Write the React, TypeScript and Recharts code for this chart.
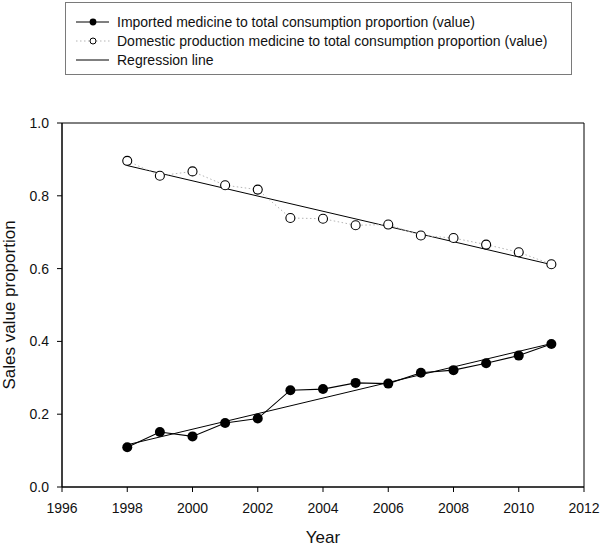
import { LineChart, Line, XAxis, YAxis, ReferenceArea } from 'recharts';

const years = [1998, 1999, 2000, 2001, 2002, 2003, 2004, 2005, 2006, 2007, 2008, 2009, 2010, 2011];
const imported = [0.109, 0.151, 0.139, 0.176, 0.188, 0.266, 0.269, 0.286, 0.284, 0.314, 0.321, 0.34, 0.361, 0.393];
const domestic = [0.896, 0.855, 0.867, 0.829, 0.817, 0.739, 0.737, 0.719, 0.721, 0.691, 0.684, 0.666, 0.645, 0.612];

const fitYears = [1998, 2011];
const importedFit = [0.116, 0.394];
const domesticFit = [0.883, 0.611];

const xTicks = [1996, 1998, 2000, 2002, 2004, 2006, 2008, 2010, 2012];
const yTicks = [0, 0.2, 0.4, 0.6, 0.8, 1.0];

const FONT = '"Liberation Sans", Arial, sans-serif';

const data = years.map((year, i) => {
  const k = fitYears.indexOf(year);
  return {
    year,
    imported: imported[i],
    domestic: domestic[i],
    importedFit: k >= 0 ? importedFit[k] : null,
    domesticFit: k >= 0 ? domesticFit[k] : null,
  };
});

const legendItems = [
  { label: 'Imported medicine to total consumption proportion (value)', kind: 'filled' },
  { label: 'Domestic production medicine to total consumption proportion (value)', kind: 'open' },
  { label: 'Regression line', kind: 'line' },
];

function LegendSymbol({ kind }: { kind: string }) {
  return (
    <svg width={34} height={10} style={{ display: 'block' }}>
      {kind === 'open' ? (
        <line x1={0} y1={5} x2={34} y2={5} stroke="#b5b5b5" strokeWidth={1} strokeDasharray="1.5 2.5" />
      ) : (
        <line x1={0} y1={5} x2={33} y2={5} stroke="#000" strokeWidth={1} />
      )}
      {kind === 'filled' && <circle cx={17} cy={5} r={3.4} fill="#000" />}
      {kind === 'open' && <circle cx={17} cy={5} r={3} fill="#fff" stroke="#000" strokeWidth={1} />}
    </svg>
  );
}

function ChartLegend() {
  return (
    <div
      style={{
        position: 'absolute',
        left: 65,
        top: 2,
        width: 507,
        height: 73,
        border: '1px solid #7a7a7a',
        boxSizing: 'border-box',
        fontFamily: FONT,
        fontSize: 14,
        color: '#111',
      }}
    >
      {legendItems.map((item, i) => (
        <div
          key={item.label}
          style={{
            position: 'absolute',
            left: 10,
            top: 9 + i * 19,
            height: 19,
            display: 'flex',
            alignItems: 'center',
            whiteSpace: 'nowrap',
          }}
        >
          <LegendSymbol kind={item.kind} />
          <span style={{ marginLeft: 7 }}>{item.label}</span>
        </div>
      ))}
    </div>
  );
}

export default function App() {
  return (
    <div style={{ position: 'absolute', left: 0, top: 0, width: 600, height: 546, background: '#fff' }}>
      <LineChart
        width={600}
        height={546}
        data={data}
        margin={{ top: 123, right: 16, bottom: 0, left: 0 }}
      >
        <XAxis
          dataKey="year"
          type="number"
          domain={[1996, 2012]}
          ticks={xTicks}
          height={59}
          tickSize={5}
          tickMargin={11}
          axisLine={{ stroke: '#000' }}
          tickLine={{ stroke: '#000' }}
          tick={{ fill: '#111', fontSize: 14, fontFamily: FONT }}
          label={({ viewBox }: any) => (
            <text
              x={viewBox.x + viewBox.width / 2}
              y={543}
              textAnchor="middle"
              fontSize={17}
              fontFamily={FONT}
              fill="#111"
            >
              Year
            </text>
          )}
        />
        <YAxis
          type="number"
          domain={[0, 1]}
          ticks={yTicks}
          width={62}
          tickSize={5}
          tickMargin={8}
          tickFormatter={(v: number) => v.toFixed(1)}
          axisLine={{ stroke: '#000' }}
          tickLine={{ stroke: '#000' }}
          tick={{ fill: '#111', fontSize: 14, fontFamily: FONT }}
          label={({ viewBox }: any) => {
            const cy = viewBox.y + viewBox.height / 2;
            return (
              <text
                x={15}
                y={cy}
                transform={`rotate(-90, 15, ${cy})`}
                textAnchor="middle"
                fontSize={17}
                fontFamily={FONT}
                fill="#111"
              >
                Sales value proportion
              </text>
            );
          }}
        />
        <ReferenceArea x1={1996} x2={2012} y1={0} y2={1} fill="none" stroke="#000" strokeWidth={1} />
        <Line
          dataKey="importedFit"
          stroke="#000"
          strokeWidth={1}
          dot={false}
          connectNulls
          isAnimationActive={false}
        />
        <Line
          dataKey="domesticFit"
          stroke="#000"
          strokeWidth={1}
          dot={false}
          connectNulls
          isAnimationActive={false}
        />
        <Line
          dataKey="domestic"
          stroke="#b5b5b5"
          strokeWidth={1}
          strokeDasharray="1.5 2.5"
          dot={{ r: 4.5, fill: '#fff', stroke: '#000', strokeWidth: 1.1, strokeDasharray: 'none' }}
          isAnimationActive={false}
        />
        <Line
          dataKey="imported"
          stroke="#000"
          strokeWidth={1.1}
          dot={{ r: 5, fill: '#000', stroke: '#000', strokeWidth: 0 }}
          isAnimationActive={false}
        />
      </LineChart>
      <ChartLegend />
    </div>
  );
}
